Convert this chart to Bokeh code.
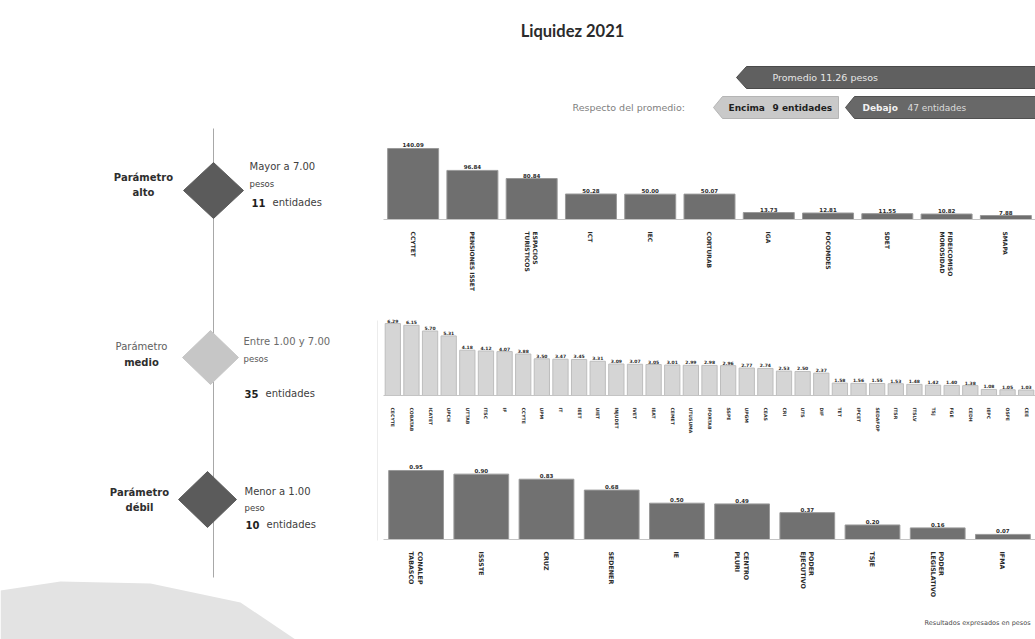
from bokeh.plotting import figure
from bokeh.layouts import column, row
from bokeh.models import Range1d, FactorRange, ColumnDataSource
from bokeh.core.properties import value
from bokeh.embed import file_html
from bokeh.resources import INLINE

# ---------------- data ----------------
TITLE = "Liquidez 2021"
PROMEDIO = 11.26
ENCIMA = 9
DEBAJO = 47
FOOTER = "Resultados expresados en pesos"

alto_cats = ["CCYTET", "PENSIONES ISSET", "ESPACIOS\nTURÍSTICOS", "ICT", "IEC", "CORTURAB",
             "IGA", "FOCOMDES", "SDET", "FIDEICOMISO\nMOROSIDAD", "SMAPA"]
alto_vals = [140.09, 96.84, 80.84, 50.28, 50.00, 50.07, 13.73, 12.81, 11.55, 10.82, 7.88]

medio_cats = ["CECYTE", "COBATAB", "ICATET", "UPCH", "UTTAB", "ITSC", "IF", "CCYTE", "UPM", "IT",
              "IEET", "UIET", "INJUDET", "IVET", "IEAT", "CEMET", "UTUSUMA", "IFORTAB", "SSPE",
              "UPGM", "CEAS", "CRI", "UTS", "DIF", "TET", "IPCET", "SEDAFOP", "ITSR", "ITSLV",
              "TSJ", "FGE", "CEDH", "IEPC", "OSFE", "CEE"]
medio_vals = [6.29, 6.15, 5.70, 5.31, 4.18, 4.12, 4.07, 3.88, 3.50, 3.47, 3.45, 3.31, 3.09, 3.07,
              3.05, 3.01, 2.99, 2.98, 2.96, 2.77, 2.74, 2.53, 2.50, 2.37, 1.58, 1.56, 1.55, 1.53,
              1.48, 1.42, 1.40, 1.38, 1.08, 1.05, 1.03]

debil_cats = ["CONALEP\nTABASCO", "ISSSTE", "CRUZ", "SEDENER", "IE", "CENTRO\nPLURI",
              "PODER\nEJECUTIVO", "TSJE", "PODER\nLEGISLATIVO", "IFMA"]
debil_vals = [0.95, 0.90, 0.83, 0.68, 0.50, 0.49, 0.37, 0.20, 0.16, 0.07]

FONT = value("DejaVu Sans")


def blank(width, height, xr, yr):
    p = figure(width=width, height=height, x_range=xr, y_range=yr,
               toolbar_location=None, output_backend="svg",
               x_axis_type=None, y_axis_type=None)
    p.min_border = 0
    p.outline_line_color = None
    p.background_fill_color = "white"
    p.border_fill_color = "white"
    return p


def txt(p, x, y, s, size="10px", color="#333333", style="normal", align="left",
        base="middle", font=FONT):
    p.text(x=[x], y=[y], text=[s], text_font=font, text_font_size=size,
           text_color=color, text_font_style=style, text_align=align, text_baseline=base)


# ---------------- header (page y 0..123) ----------------
H_W, H_H = 1035, 123
header = blank(H_W, H_H, Range1d(0, H_W), Range1d(H_H, 0))
txt(header, 572, 30, TITLE, size="16.5px", color="#2b2b2b", style="bold",
    align="center", font=value("Lato"))
# Promedio banner
header.patch([736, 746, 1035, 1035, 746], [77, 66, 66, 88, 88],
             fill_color="#606060", line_color="#4a4a4a")
txt(header, 772, 77, f"Promedio  {PROMEDIO:.2f} pesos", size="9.5px", color="#e6e6e6")
# Respecto del promedio
txt(header, 572, 107, "Respecto del promedio:", size="9.5px", color="#808080")
header.patch([713, 722, 838, 838, 722], [107, 96, 96, 118, 118],
             fill_color="#c9c9c9", line_color="#b5b5b5")
txt(header, 728, 107, "Encima", size="9px", color="#1e1e1e", style="bold")
txt(header, 772, 107, f"{ENCIMA} entidades", size="9px", color="#1e1e1e", style="bold")
header.patch([845, 854, 1035, 1035, 854], [107, 96, 96, 118, 118],
             fill_color="#686868", line_color="#505050")
txt(header, 862, 107, "Debajo", size="9px", color="#f2f2f2", style="bold")
txt(header, 907, 107, f"{DEBAJO} entidades", size="9px", color="#dcdcdc")

# ---------------- left panel (page x 0..380, y 123..639) ----------------
L_W, L_H = 380, 516
left = blank(L_W, L_H, Range1d(0, L_W), Range1d(L_H, 0))
ly = lambda v: v - 123

# paper shadow at bottom-left
left.patch([0, 60, 150, 240, 295, 0],
           [ly(590), ly(581), ly(583), ly(602), ly(639), ly(639)],
           fill_color="#e3e3e3", line_color=None)
left.line([213, 213], [ly(128), ly(577)], line_color="#a8a8a8", line_width=1)
left.line([377, 377], [ly(320), ly(540)], line_color="#ececec", line_width=1)


def diamond(cx, cy, hw, hh, color):
    left.patch([cx - hw, cx, cx + hw, cx],
               [ly(cy), ly(cy - hh), ly(cy), ly(cy + hh)],
               fill_color=color, line_color=color)


diamond(213, 190, 30, 28, "#5b5b5b")
diamond(210, 357, 28, 27, "#c6c6c6")
diamond(207, 499, 29, 28, "#5b5b5b")

# alto
txt(left, 143, ly(177), "Parámetro", color="#2e2e2e", style="bold", align="center")
txt(left, 143, ly(192), "alto", color="#2e2e2e", style="bold", align="center")
txt(left, 249, ly(166), "Mayor a 7.00", color="#404040")
txt(left, 249, ly(183), "pesos", size="8.5px", color="#404040")
txt(left, 251, ly(202), f"{len(alto_cats)}", color="#1e1e1e", style="bold")
txt(left, 272, ly(202), "entidades", color="#404040")
# medio
txt(left, 141, ly(346), "Parámetro", color="#606060", align="center")
txt(left, 141, ly(362), "medio", color="#2e2e2e", style="bold", align="center")
txt(left, 243, ly(341), "Entre 1.00 y 7.00", color="#6a6a6a")
txt(left, 243, ly(358), "pesos", size="8.5px", color="#555555")
txt(left, 244, ly(393), f"{len(medio_cats)}", color="#1e1e1e", style="bold")
txt(left, 265, ly(393), "entidades", color="#404040")
# debil
txt(left, 139, ly(492), "Parámetro", color="#2e2e2e", style="bold", align="center")
txt(left, 139, ly(507), "débil", color="#2e2e2e", style="bold", align="center")
txt(left, 244, ly(491), "Menor a 1.00", color="#404040")
txt(left, 244, ly(507), "peso", size="8.5px", color="#404040")
txt(left, 245, ly(524), f"{len(debil_cats)}", color="#1e1e1e", style="bold")
txt(left, 266, ly(524), "entidades", color="#404040")


# ---------------- bar charts (page x 380..1035) ----------------
def bar_chart(cats, vals, height, y_start, y_end, border_bottom, bw, fill, line,
              lab_size, tick_size, fmt="{:.2f}"):
    p = figure(width=655, height=height, x_range=FactorRange(factors=cats),
               y_range=Range1d(y_start, y_end), toolbar_location=None,
               output_backend="svg", y_axis_type=None)
    p.min_border_left = 3
    p.min_border_right = 0
    p.min_border_top = 0
    p.min_border_bottom = border_bottom
    p.outline_line_color = None
    p.background_fill_color = "white"
    p.border_fill_color = "white"
    p.xgrid.visible = False
    src = ColumnDataSource(dict(cat=cats, val=vals, lab=[fmt.format(v) for v in vals]))
    p.vbar(x="cat", top="val", bottom=y_start, width=bw, source=src,
           fill_color=fill, line_color=line, line_width=1)
    p.text(x="cat", y="val", text="lab", source=src, text_align="center",
           text_baseline="bottom", y_offset=-1, text_font=FONT,
           text_font_size=lab_size, text_font_style="bold", text_color="#2a2a2a")
    ax = p.xaxis[0]
    ax.major_label_orientation = "vertical"
    ax.axis_line_color = "#c4c4c4"
    ax.major_tick_line_color = None
    ax.minor_tick_line_color = None
    ax.major_label_text_font = "DejaVu Sans"
    ax.major_label_text_font_size = tick_size
    ax.major_label_text_font_style = "bold"
    ax.major_label_text_color = "#2a2a2a"
    ax.major_label_standoff = 6
    return p


# top: page y 123..300, baseline 219
top = bar_chart(alto_cats, alto_vals, 177, 0, 189.4, 81, 0.86, "#6f6f6f", "#999999",
                "5.5px", "6px")
# mid: page y 300..440, baseline 395
mid = bar_chart(medio_cats, medio_vals, 140, 0.6, 8.11, 45, 0.82, "#d5d5d5", "#bdbdbd",
                "4.5px", "4.6px")
# bottom: page y 440..610, baseline 539
bot = bar_chart(debil_cats, debil_vals, 170, 0, 1.363, 71, 0.84, "#717171", "#9a9a9a",
                "5.5px", "6.3px")
# footer: page y 610..639
footer = blank(655, 29, Range1d(380, 1035), Range1d(29, 0))
txt(footer, 1030, 12, FOOTER, size="6.5px", color="#4a4a4a", align="right")

layout = column(header, row(left, column(top, mid, bot, footer)))

open("out.html", "w").write(file_html(layout, INLINE))
